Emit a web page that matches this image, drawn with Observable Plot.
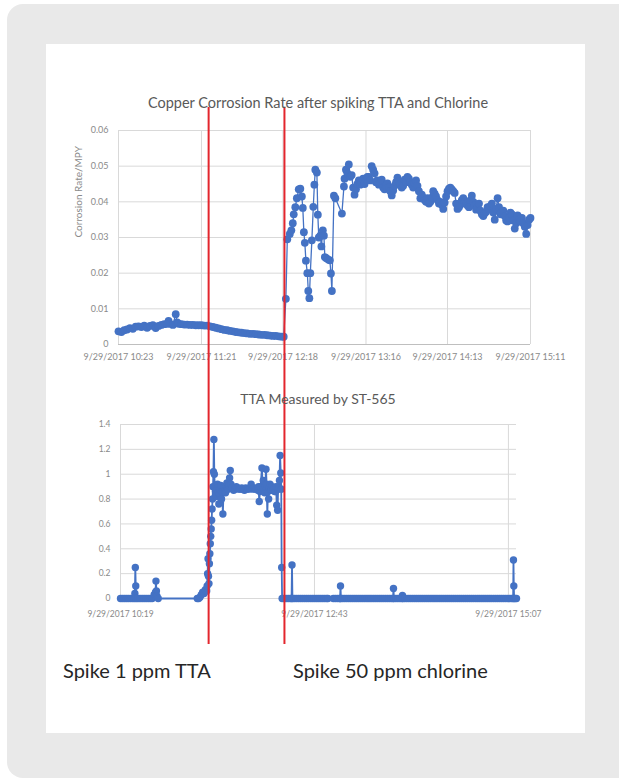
<!DOCTYPE html>
<html>
<head>
<meta charset="utf-8">
<script src="https://cdn.jsdelivr.net/npm/d3@7"></script>
<script src="https://cdn.jsdelivr.net/npm/@observablehq/plot@0.6"></script>
<style>
html,body{margin:0;padding:0;background:#fff;width:619px;height:780px;overflow:hidden;font-family:Lato,"Open Sans",sans-serif;}
#bg{position:absolute;left:7px;top:4px;width:700px;height:774px;border-radius:16px;background:#e9e9e9;}
#panel{position:absolute;left:46px;top:44px;width:539px;height:689px;background:#fff;}
.title{position:absolute;color:#595959;white-space:nowrap;line-height:1;transform:translateX(-50%);}
.caption{position:absolute;color:#262626;white-space:nowrap;line-height:1;font-size:20px;}
.chart{position:absolute;}
</style>
</head>
<body>
<div id="bg"></div>
<div id="panel"></div>
<div id="root"></div>
<script>
// ---------- text ----------
const topTitle = "Copper Corrosion Rate after spiking TTA and Chlorine";
const topYLabel = "Corrosion Rate/MPY";
const bottomTitle = "TTA Measured by ST-565";
const captions = ["Spike 1 ppm TTA", "Spike 50 ppm chlorine"];

// ---------- axes ----------
const topXDomain = ["10:23", "15:11"];
const topXTicks = ["10:23", "11:21", "12:18", "13:16", "14:13", "15:11"];
const topYTicks = [0, 0.01, 0.02, 0.03, 0.04, 0.05, 0.06];
const bottomXDomain = ["10:19", "15:13"];
const bottomXTicks = ["10:19", "12:43", "15:07"];
const bottomYTicks = [0, 0.2, 0.4, 0.6, 0.8, 1, 1.2, 1.4];
const spikeTimes = ["11:26", "12:19"];

// ---------- copper corrosion rate (MPY) ----------
const corrosionReadings = [
  ["10:23",0.0037],["10:25",0.0035],["10:27",0.0040],["10:29",0.0042],["10:31",0.0046],["10:33",0.0044],
  ["10:35",0.0050],["10:37",0.0051],["10:39",0.0049],["10:41",0.0053],["10:43",0.0047],["10:45",0.0052],
  ["10:47",0.0054],["10:49",0.0046],["10:51",0.0052],["10:53",0.0055],["10:55",0.0057],["10:57",0.0058],
  ["10:58",0.0066],["10:59",0.0058],["11:01",0.0055],["11:03",0.0085],["11:04",0.0062],["11:05",0.0058],
  ["11:07",0.0057],["11:09",0.0056],["11:11",0.0056],["11:13",0.0055],["11:15",0.0055],["11:17",0.0054],
  ["11:19",0.0054],["11:21",0.0054],["11:23",0.0053],["11:25",0.0053],["11:27",0.0051],["11:29",0.0049],
  ["11:31",0.0047],["11:33",0.0045],["11:35",0.0043],["11:37",0.0041],["11:39",0.0040],["11:41",0.0038],
  ["11:43",0.0037],["11:45",0.0035],["11:47",0.0034],["11:49",0.0033],["11:51",0.0032],["11:53",0.0031],
  ["11:55",0.0030],["11:57",0.0030],["11:59",0.0029],["12:01",0.0028],["12:03",0.0027],["12:05",0.0027],
  ["12:07",0.0026],["12:09",0.0025],["12:11",0.0024],["12:13",0.0024],["12:15",0.0023],["12:17",0.0022],
  ["12:18:30",0.0022],
  ["12:20",0.0128],["12:21",0.0295],["12:22:45",0.0310],["12:23:50",0.0320],["12:24:50",0.0340],
  ["12:25:30",0.0365],["12:26:36",0.0385],["12:27:40",0.0410],["12:29",0.0435],["12:30:06",0.0437],
  ["12:31:10",0.0415],["12:31:50",0.0383],["12:32:35",0.0315],["12:33:15",0.0285],["12:34",0.0235],
  ["12:35",0.0200],["12:35:40",0.0150],["12:36:25",0.0130],["12:37:05",0.0200],["12:38:10",0.0292],
  ["12:39:10",0.0386],["12:39:55",0.0448],["12:40:35",0.0490],["12:41:40",0.0482],["12:42:20",0.0364],
  ["12:43",0.0300],["12:44:05",0.0305],["12:44:50",0.0275],["12:45:50",0.0320],["12:46:35",0.0305],
  ["12:47:15",0.0245],["12:48:20",0.0242],["12:49:40",0.0238],["12:50:45",0.0236],["12:51:30",0.0199],
  ["12:52:10",0.0150],["12:53:35",0.0417],["12:54:35",0.0410],["12:59:10",0.0367],["13:00:35",0.0443],
  ["13:01",0.0465],["13:02",0.0490],["13:03",0.0480],["13:04",0.0505],["13:05",0.0470],["13:06",0.0475],
  ["13:07",0.0440],["13:08",0.0420],["13:09",0.0435],["13:10",0.0450],["13:11",0.0460],["13:12",0.0448],
  ["13:13",0.0455],["13:14",0.0465],["13:15",0.0450],["13:16",0.0465],["13:17",0.0470],["13:18",0.0470],
  ["13:19",0.0460],["13:20",0.0500],["13:21",0.0490],["13:22",0.0480],["13:23",0.0455],["13:24",0.0460],
  ["13:25",0.0448],["13:26",0.0455],["13:27",0.0462],["13:28",0.0440],["13:29",0.0435],["13:30",0.0445],
  ["13:31",0.0452],["13:32",0.0440],["13:33",0.0430],["13:34",0.0418],["13:35",0.0432],["13:36",0.0445],
  ["13:37",0.0455],["13:38",0.0468],["13:39",0.0458],["13:40",0.0450],["13:41",0.0440],["13:42",0.0445],
  ["13:43",0.0462],["13:44",0.0455],["13:45",0.0470],["13:46",0.0465],["13:47",0.0455],["13:48",0.0448],
  ["13:49",0.0440],["13:50",0.0452],["13:51",0.0460],["13:52",0.0445],["13:53",0.0430],["13:54",0.0410],
  ["13:55",0.0420],["13:56",0.0412],["13:57",0.0405],["13:58",0.0400],["13:59",0.0410],["14:00",0.0395],
  ["14:01",0.0400],["14:02",0.0412],["14:03",0.0430],["14:04",0.0423],["14:05",0.0415],["14:06",0.0405],
  ["14:07",0.0395],["14:08",0.0400],["14:09",0.0392],["14:10",0.0380],["14:11",0.0398],["14:12",0.0415],
  ["14:13",0.0430],["14:14",0.0437],["14:15",0.0440],["14:16",0.0435],["14:17",0.0430],["14:18",0.0425],
  ["14:19",0.0395],["14:20",0.0380],["14:21",0.0385],["14:22",0.0392],["14:23",0.0405],["14:24",0.0410],
  ["14:25",0.0400],["14:26",0.0395],["14:27",0.0390],["14:28",0.0385],["14:29",0.0405],["14:30",0.0417],
  ["14:31",0.0400],["14:32",0.0390],["14:33",0.0378],["14:34",0.0385],["14:35",0.0395],["14:36",0.0375],
  ["14:37",0.0365],["14:38",0.0360],["14:39",0.0368],["14:40",0.0372],["14:41",0.0385],["14:42",0.0380],
  ["14:43",0.0388],["14:44",0.0395],["14:45",0.0370],["14:46",0.0350],["14:47",0.0380],["14:48",0.0410],
  ["14:49",0.0385],["14:50",0.0365],["14:51",0.0372],["14:52",0.0375],["14:53",0.0360],["14:54",0.0348],
  ["14:55",0.0345],["14:56",0.0355],["14:57",0.0370],["14:58",0.0365],["14:59",0.0348],["15:00",0.0325],
  ["15:01",0.0340],["15:02",0.0362],["15:03",0.0350],["15:04",0.0345],["15:05",0.0355],["15:06",0.0340],
  ["15:07",0.0330],["15:08",0.0310],["15:09",0.0335],["15:10",0.0350],["15:11",0.0355]
];

// ---------- TTA measured (ppm) ----------
const ttaReadings = [
  ["10:19",0],["10:20:30",0],["10:22",0],["10:23:30",0],["10:25",0],["10:26:30",0],["10:28",0],["10:29:20",0],
  ["10:29:40",0.04],["10:30",0.25],["10:30:20",0.10],["10:30:40",0],["10:32",0],["10:33:30",0],["10:35",0],
  ["10:36:30",0],["10:38",0],["10:39:30",0],["10:41",0],["10:42:30",0],["10:44",0.03],["10:45",0.05],
  ["10:45:20",0.14],["10:45:40",0.06],["10:46",0.02],["10:47",0],
  ["11:16",0],["11:17",0],["11:18",0.01],["11:19",0.03],["11:20",0.05],["11:21",0.04],["11:22",0.07],["11:23",0.06],
  ["11:23:20",0.10],["11:23:40",0.20],["11:24",0.32],["11:24:20",0.18],["11:24:40",0.12],["11:25",0.28],
  ["11:25:20",0.36],["11:25:40",0.44],["11:26",0.50],["11:26:20",0.56],["11:26:40",0.63],["11:27",0.72],
  ["11:27:20",0.80],["11:27:40",0.90],["11:28",1.02],["11:28:20",1.28],["11:28:40",1.00],["11:29",0.90],
  ["11:29:30",0.86],["11:30",0.82],["11:30:30",0.88],["11:31",0.92],["11:31:30",0.85],["11:32",0.76],
  ["11:32:30",0.84],["11:33",0.88],["11:33:30",0.91],["11:34",0.80],["11:34:30",0.86],["11:35",0.68],
  ["11:35:30",0.86],["11:36",0.90],["11:36:30",0.87],["11:37",0.85],["11:37:30",0.90],["11:38",0.93],
  ["11:38:30",0.89],["11:39",0.88],["11:39:30",0.91],["11:40",0.97],["11:40:30",1.03],["11:41",0.92],
  ["11:42",0.89],["11:43",0.87],["11:44",0.88],["11:45",0.90],["11:46",0.89],["11:47",0.88],["11:48",0.88],
  ["11:49",0.89],["11:50",0.88],["11:51",0.87],["11:52",0.89],["11:53",0.88],["11:54",0.88],["11:55",0.89],
  ["11:56",0.92],["11:57",0.88],["11:58",0.89],["11:59",0.88],["12:00",0.88],["12:01",0.87],["12:01:30",0.90],
  ["12:02",0.78],["12:02:30",0.86],["12:03",0.90],["12:04",1.05],["12:04:30",0.90],["12:05",0.95],
  ["12:05:30",0.88],["12:06",0.85],["12:06:30",0.90],["12:07",1.04],["12:07:30",0.92],["12:08",0.68],
  ["12:08:30",0.86],["12:09",0.80],["12:09:30",0.89],["12:10",0.92],["12:10:30",0.87],["12:11",0.88],
  ["12:11:30",0.90],["12:12",0.87],["12:12:30",0.88],["12:13",0.89],["12:13:30",0.86],["12:14",0.86],
  ["12:14:30",0.90],["12:15",0.75],["12:15:40",0.71],["12:16",0.88],["12:16:30",0.90],["12:17",0.95],
  ["12:17:30",1.15],["12:18",1.01],["12:18:20",0.88],["12:18:40",0.25],["12:19",0],
  ["12:20:30",0],["12:22",0],["12:23:30",0],["12:25",0],["12:26",0],["12:26:20",0.27],["12:26:40",0],
  ["12:28",0],["12:29:30",0],["12:31",0],["12:32:30",0],["12:34",0],["12:35:30",0],["12:37",0],["12:38:30",0],
  ["12:40",0],["12:41:30",0],["12:43",0],["12:44:30",0],["12:46",0],["12:47:30",0],["12:49",0],["12:50:30",0],
  ["12:52",0],["12:53",0],
  ["12:57",0],["12:58:30",0],["13:00",0],["13:01:30",0],["13:02",0],["13:02:20",0.10],["13:02:40",0],
  ["13:04",0],["13:05:30",0],["13:07",0],["13:08:30",0],["13:10",0],["13:11:30",0],["13:13",0],["13:14:30",0],
  ["13:16",0],["13:17:30",0],["13:19",0],["13:20:30",0],["13:22",0],["13:23:30",0],["13:25",0],["13:26:30",0],
  ["13:28",0],["13:29:30",0],["13:31",0],["13:32:30",0],["13:34",0],["13:35:30",0],["13:37",0],["13:38:30",0],
  ["13:40",0],["13:41:20",0],["13:41:40",0.08],["13:42:00",0],["13:43:30",0],["13:45",0],["13:46:30",0],
  ["13:48",0],["13:48:20",0.025],["13:48:40",0],["13:50",0],["13:51:30",0],["13:53",0],["13:54:30",0],
  ["13:56",0],["13:57:30",0],["13:59",0],["14:00:30",0],["14:02",0],["14:03:30",0],["14:05",0],["14:06:30",0],
  ["14:08",0],["14:09:30",0],["14:11",0],["14:12:30",0],["14:14",0],["14:15:30",0],["14:17",0],["14:18:30",0],
  ["14:20",0],["14:21:30",0],["14:23",0],["14:24:30",0],["14:26",0],["14:27:30",0],["14:29",0],["14:30:30",0],
  ["14:32",0],["14:33:30",0],["14:35",0],["14:36:30",0],["14:38",0],["14:39:30",0],["14:41",0],["14:42:30",0],
  ["14:44",0],["14:45:30",0],["14:47",0],["14:48:30",0],["14:50",0],["14:51:30",0],["14:53",0],["14:54:30",0],
  ["14:56",0],["14:57:30",0],["14:59",0],["15:00:30",0],["15:02",0],["15:03:30",0],["15:05",0],["15:06:30",0],
  ["15:08",0],["15:09:30",0],["15:10:30",0],["15:10:45",0.31],["15:11",0.10],["15:11:15",0],["15:12",0],["15:13",0]
];

// ---------- helpers ----------
const parseFull = d3.timeParse("%Y-%m-%d %H:%M:%S");
const T = s => parseFull("2017-09-29 " + (s.length === 5 ? s + ":00" : s));
const fmt = d3.timeFormat("%-m/%-d/%Y %H:%M");
const blue = "#4472c4";
const grid = "#d9d9d9";

const corr = corrosionReadings.map(([t, v]) => ({t: T(t), v})).sort((a, b) => a.t - b.t);
const tta = ttaReadings.map(([t, v]) => ({t: T(t), v})).sort((a, b) => a.t - b.t);

const root = document.getElementById("root");
function place(el, left, top) {
  el.classList.add("chart");
  el.style.left = left + "px";
  el.style.top = top + "px";
  el.style.background = "transparent";
  el.style.maxWidth = "none";
  root.appendChild(el);
}
function addDiv(cls, text, left, top, size) {
  const d = document.createElement("div");
  d.className = cls;
  d.textContent = text;
  d.style.left = left + "px";
  d.style.top = top + "px";
  if (size) d.style.fontSize = size + "px";
  root.appendChild(d);
}

// ---------- top chart ----------
const topChart = Plot.plot({
  width: 539, height: 260,
  marginLeft: 72, marginRight: 55, marginTop: 15, marginBottom: 31,
  style: {fontFamily: "Lato, 'Open Sans', sans-serif", fontSize: "9px", color: "#8a8a8a", background: "transparent"},
  x: {type: "time", domain: topXDomain.map(T), ticks: topXTicks.map(T), tickFormat: fmt, tickSize: 0, tickPadding: 9, label: null},
  y: {domain: [0, 0.06], ticks: topYTicks, tickFormat: d => String(d), tickSize: 0, tickPadding: 10, label: null},
  marks: [
    Plot.ruleY(topYTicks, {stroke: grid, strokeWidth: 1}),
    Plot.ruleX(topXTicks.map(T), {stroke: grid, strokeWidth: 1}),
    Plot.ruleY([0], {stroke: "#bfbfbf"}),
    Plot.line(corr, {x: "t", y: "v", stroke: blue, strokeWidth: 1.3}),
    Plot.dot(corr, {x: "t", y: "v", r: 3.9, fill: blue, stroke: "none"}),
    Plot.text([topYLabel], {frameAnchor: "left", rotate: -90, dx: -40, fontSize: 10, fill: "#8a8a8a"})
  ]
});
place(topChart, 46, 115);

// ---------- bottom chart ----------
const bottomChart = Plot.plot({
  width: 539, height: 220,
  marginLeft: 74, marginRight: 69, marginTop: 14, marginBottom: 32,
  style: {fontFamily: "Lato, 'Open Sans', sans-serif", fontSize: "8.5px", color: "#8a8a8a", background: "transparent"},
  x: {type: "time", domain: bottomXDomain.map(T), ticks: bottomXTicks.map(T), tickFormat: fmt, tickSize: 0, tickPadding: 12, label: null},
  y: {domain: [0, 1.4], ticks: bottomYTicks, tickFormat: d => String(d), tickSize: 0, tickPadding: 10, label: null},
  marks: [
    Plot.ruleY(bottomYTicks, {stroke: grid, strokeWidth: 1}),
    Plot.ruleX(bottomXTicks.map(T), {stroke: grid, strokeWidth: 1}),
    Plot.line(tta, {x: "t", y: "v", stroke: blue, strokeWidth: 1.8}),
    Plot.dot(tta, {x: "t", y: "v", r: 3.7, fill: blue, stroke: "none"})
  ]
});
place(bottomChart, 46, 410);

// ---------- spike annotation lines (overlay on top chart's time scale) ----------
const overlay = Plot.plot({
  width: 619, height: 780,
  marginLeft: 118, marginRight: 89, marginTop: 107, marginBottom: 136,
  style: {background: "transparent"},
  x: {type: "time", domain: topXDomain.map(T), axis: null},
  marks: [Plot.ruleX(spikeTimes.map(T), {stroke: "#e3262d", strokeWidth: 2})]
});
overlay.style.pointerEvents = "none";
place(overlay, 0, 0);

// ---------- titles and captions ----------
addDiv("title", topTitle, 318, 96, 14.5);
addDiv("title", bottomTitle, 318, 392, 14);
addDiv("caption", captions[0], 63, 660);
addDiv("caption", captions[1], 293, 660);
</script>
</body>
</html>
